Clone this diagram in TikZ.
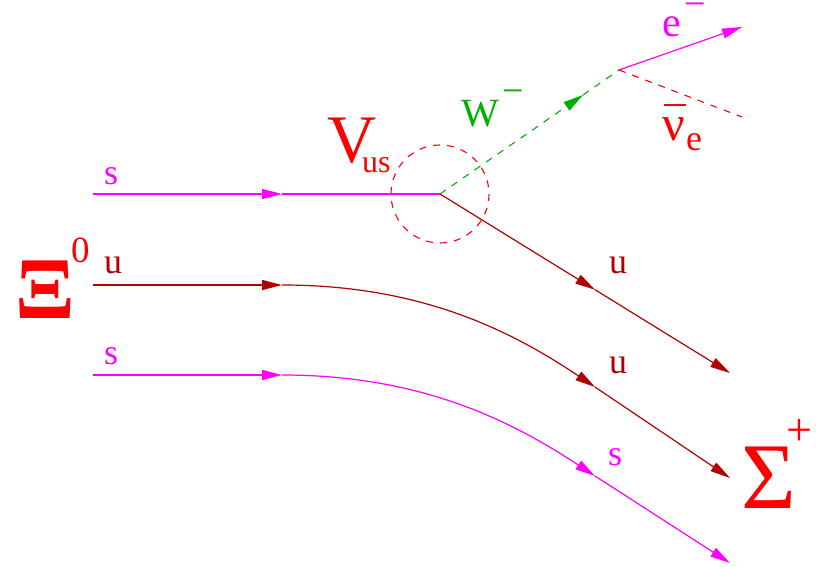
\documentclass[tikz,border=0pt]{standalone}
\usepackage{fontspec}
\setmainfont{Liberation Serif}
\usetikzlibrary{arrows.meta}
\definecolor{qmag}{RGB}{255,0,255}
\definecolor{qdred}{RGB}{176,0,0}
\definecolor{qred}{RGB}{255,0,0}
\definecolor{qgreen}{RGB}{0,176,0}
\newcommand{\fs}[1]{\fontsize{#1}{#1}\selectfont}
\tikzset{
  lbl/.style={inner sep=0pt, outer sep=0pt, anchor=base west},
  cl/.style={inner sep=0pt, outer sep=0pt, anchor=center},
  qline/.style={line width=1.2pt},
  tip/.style={-{Triangle[length=20pt,width=10pt]}},
  dsh/.style={line width=1.1pt, dash pattern=on 7pt off 7pt},
}
\begin{document}
\begin{tikzpicture}[x=1pt,y=-1pt]
\useasboundingbox (0,0) rectangle (816,567);
% coordinates
\coordinate (s1a) at (93,194);
\coordinate (s1m) at (282,194);
\coordinate (vx) at (440,194);
\coordinate (u1m) at (595,289.7);
\coordinate (u1e) at (730,373);
\coordinate (u2a) at (93,285);
\coordinate (u2m) at (282,285);
\coordinate (u2c) at (595,387);
\coordinate (u2e) at (730,478);
\coordinate (s3a) at (93,375);
\coordinate (s3m) at (282,375);
\coordinate (s3c) at (595,476);
\coordinate (s3e) at (730,563);
\coordinate (wm) at (583,95);
\coordinate (wv) at (619,70);
\coordinate (ee) at (742,27);
\coordinate (nue) at (742,117);
% circle
\draw[qred, dsh] (vx) circle[radius=49];
% top s quark
\draw[qmag, qline, tip] (s1a) -- (s1m);
\draw[qmag, qline] (s1m) -- (vx);
% u produced
\draw[qdred, qline, tip] (vx) -- (u1m);
\draw[qdred, qline, tip] (u1m) -- (u1e);
% spectator u
\draw[qdred, qline, tip] (u2a) -- (u2m);
\draw[qdred, qline, tip] (u2m) .. controls (420,285) and (510,330) .. (u2c);
\draw[qdred, qline, tip] (u2c) -- (u2e);
% spectator s
\draw[qmag, qline, tip] (s3a) -- (s3m);
\draw[qmag, qline, tip] (s3m) .. controls (420,375) and (510,420) .. (s3c);
\draw[qmag, qline, tip] (s3c) -- (s3e);
% W boson
\draw[qgreen, dsh, tip] (vx) -- (wm);
\draw[qgreen, dsh] (wm) -- (wv);
% leptons
\draw[qmag, qline, tip] (wv) -- (ee);
\draw[qred, dsh] (wv) -- (nue);
% labels
\node[lbl, qmag] (ls1) at (104,184) {\fs{36}s};
\node[lbl, qdred] (lu2) at (104,273) {\fs{36}u};
\node[lbl, qmag] (ls3) at (104,364) {\fs{36}s};
\node[lbl, qdred] (lu1r) at (609,273) {\fs{36}u};
\node[lbl, qdred] (lu2r) at (609,373) {\fs{36}u};
\node[lbl, qmag] (ls3r) at (608,465) {\fs{36}s};
\node[lbl, qgreen] (lw) at (461,127) {\fs{40}W};
\node[cl, qgreen] (lwm) at (513,97) {\fs{38}−};
\node[lbl, qmag] (le) at (662,37) {\fs{42}e};
\node[cl, qmag] (lem) at (695,10) {\fs{38}−};
\node[lbl, qred] (lnu) at (662,140) {\fs{50}ν};
\draw[qred, line width=1.3pt] (664,105) -- (686,105);
\node[lbl, qred] (lnue) at (686,150) {\fs{36}e};
\node[lbl, qred] (lv) at (327,162) {\fs{68}V};
\node[lbl, qred] (lus) at (362,172) {\fs{32}us};
\node[lbl, qred] (lxi) at (15,318) {\fs{88}\bfseries Ξ};
\node[lbl, qred] (lxi0) at (71,262) {\fs{37}0};
\node[lbl, qred] (lsig) at (741,508) {\fs{94}Σ};
\node[cl, qred] (lsigp) at (799,433) {\fs{46}+};
\end{tikzpicture}
\end{document}
